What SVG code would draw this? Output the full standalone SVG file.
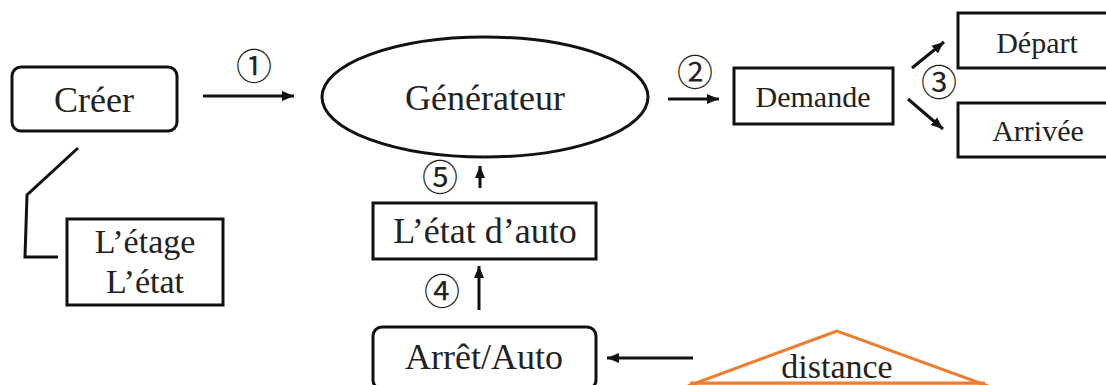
<svg xmlns="http://www.w3.org/2000/svg" width="1106" height="385" viewBox="0 0 1106 385">
<style>
.box{fill:#fff;stroke:#111;stroke-width:3}
.t{font-family:"Liberation Serif","Times New Roman",serif;fill:#222;text-anchor:middle}
.n{font-family:"Noto Sans CJK JP","DejaVu Sans",sans-serif;fill:#222;text-anchor:middle;font-size:36px}
.c{fill:none;stroke:#111;stroke-width:3}
</style>
<defs>
<marker id="ah" markerUnits="userSpaceOnUse" markerWidth="14" markerHeight="12" refX="12" refY="6" orient="auto">
<path d="M0,1 L12,6 L0,11 Z" fill="#111"/>
</marker>
</defs>
<rect width="1106" height="385" fill="#fff"/>
<g id="creer">
<rect class="box" x="12" y="67" width="165" height="64" rx="9"/>
<text class="t" x="94" y="112" font-size="36">Créer</text>
</g>
<g id="etage">
<rect class="box" x="67" y="219" width="156" height="86"/>
<text class="t" x="145" y="253" font-size="34">L’étage</text>
<text class="t" x="145" y="293" font-size="34">L’état</text>
</g>
<g id="generateur">
<ellipse class="box" cx="485" cy="97" rx="163" ry="60"/>
<text class="t" x="485" y="110" font-size="36">Générateur</text>
</g>
<g id="demande">
<rect class="box" x="734" y="68" width="159" height="56"/>
<text class="t" x="813" y="107" font-size="30">Demande</text>
</g>
<g id="depart">
<rect class="box" x="958" y="13" width="160" height="55"/>
<text class="t" x="1037" y="53" font-size="30">Départ</text>
</g>
<g id="arrivee">
<rect class="box" x="958" y="103" width="160" height="54"/>
<text class="t" x="1038" y="141" font-size="30">Arrivée</text>
</g>
<g id="etat-auto">
<rect class="box" x="373" y="203" width="223" height="56"/>
<text class="t" x="485" y="243" font-size="36">L’état d’auto</text>
</g>
<g id="arret">
<rect class="box" x="373" y="327" width="223" height="62" rx="9"/>
<text class="t" x="484" y="369" font-size="36">Arrêt/Auto</text>
</g>
<g id="distance">
<polygon points="837,331 688,386 988,386" fill="#fff" stroke="#ED7D31" stroke-width="3"/>
<line x1="690" y1="383" x2="985" y2="383" stroke="#ED7D31" stroke-width="3"/>
<text class="t" x="837" y="378" font-size="34">distance</text>
</g>
<g id="connectors">
<polyline class="c" points="78,148 27,195 25,257 58,257"/>
<line class="c" x1="203" y1="96" x2="294" y2="96" marker-end="url(#ah)"/>
<line class="c" x1="668" y1="99" x2="719" y2="99" marker-end="url(#ah)"/>
<line class="c" x1="912" y1="68" x2="944" y2="42" marker-end="url(#ah)"/>
<line class="c" x1="908" y1="99" x2="943" y2="129" marker-end="url(#ah)"/>
<line class="c" x1="480" y1="188" x2="480" y2="166" marker-end="url(#ah)"/>
<line class="c" x1="479" y1="310" x2="479" y2="266" marker-end="url(#ah)"/>
<line class="c" x1="693" y1="358" x2="607" y2="358" marker-end="url(#ah)"/>
<text class="n" x="254" y="80">①</text>
<text class="n" x="695" y="86">②</text>
<text class="n" x="939" y="96">③</text>
<text class="n" x="442" y="305">④</text>
<text class="n" x="440" y="191">⑤</text>
</g>
</svg>
